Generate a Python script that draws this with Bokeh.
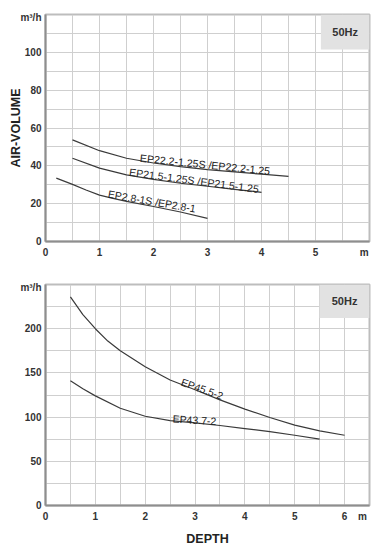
from bokeh.plotting import figure
from bokeh.layouts import column
from bokeh.models import Range1d, FixedTicker, Label, BoxAnnotation
from bokeh.embed import file_html
from bokeh.resources import INLINE

# ---- data: top chart (depth m vs air volume m3/h) ----
ep22_x = [0.5, 1.0, 1.5, 2.0, 2.5, 3.0, 3.5, 4.0, 4.5]
ep22_y = [53.7, 48.0, 44.0, 41.5, 39.6, 38.0, 36.8, 35.6, 34.4]
ep21_x = [0.5, 1.0, 1.5, 2.0, 2.5, 3.0, 3.5, 4.0]
ep21_y = [44.0, 38.8, 35.2, 32.8, 30.8, 29.2, 27.6, 26.0]
ep28_x = [0.2, 0.5, 0.75, 1.0, 1.25, 1.5, 2.0, 2.5, 3.0]
ep28_y = [33.5, 30.2, 27.2, 24.5, 22.8, 21.2, 18.5, 15.6, 12.2]
top_labels = ["EP22.2-1.25S /EP22.2-1.25", "EP21.5-1.25S /EP21.5-1.25", "EP2.8-1S /EP2.8-1"]

# ---- data: bottom chart ----
ep45_x = [0.5, 0.75, 1.0, 1.25, 1.5, 2.0, 2.5, 3.0, 3.5, 4.0, 4.5, 5.0, 5.5, 6.0]
ep45_y = [236, 216, 200, 186, 175, 157, 142, 131, 119.5, 109, 99.5, 91, 84.5, 79.5]
ep43_x = [0.5, 0.75, 1.0, 1.5, 2.0, 2.5, 3.0, 3.5, 4.0, 4.5, 5.0, 5.5]
ep43_y = [141, 132, 124, 110, 101, 96, 93.5, 90.5, 87, 83.5, 79.5, 75]
bot_labels = ["EP45.5-2", "EP43.7-2"]

top_xticks = [0, 1, 2, 3, 4, 5]
top_yticks = [0, 20, 40, 60, 80, 100]
bot_xticks = [0, 1, 2, 3, 4, 5, 6]
bot_yticks = [0, 50, 100, 150, 200]

FONT = "Liberation Sans"
LINE = "#3a3a3a"
GRID = "#cfcfcf"
AXIS = "#8e8e8e"


def style(p, xt, xm, yt, ym, xgrid, ygrid):
    p.xaxis.ticker = FixedTicker(ticks=xt + [xm])
    p.yaxis.ticker = FixedTicker(ticks=yt + [ym])
    p.xaxis.major_label_overrides = {xm: "m"}
    p.yaxis.major_label_overrides = {ym: "m³/h"}
    p.xgrid.ticker = FixedTicker(ticks=xgrid)
    p.ygrid.ticker = FixedTicker(ticks=ygrid)
    for g in (p.xgrid[0], p.ygrid[0]):
        g.grid_line_color = GRID
        g.grid_line_width = 1
    for ax in (p.xaxis[0], p.yaxis[0]):
        ax.axis_line_color = AXIS
        ax.axis_line_width = 2
        ax.major_tick_out = 0
        ax.major_tick_in = 0
        ax.minor_tick_out = 0
        ax.minor_tick_in = 0
        ax.major_label_text_font = FONT
        ax.major_label_text_font_style = "bold"
        ax.major_label_text_font_size = "10px"
        ax.major_label_text_color = "#333333"
        ax.axis_label_text_font = FONT
        ax.axis_label_text_font_style = "bold"
        ax.axis_label_text_font_size = "12.5px"
        ax.axis_label_text_color = "#222222"
    p.xaxis.major_label_standoff = 5
    p.yaxis.major_label_standoff = 4
    p.outline_line_color = "#bdbdbd"
    p.outline_line_width = 2
    p.background_fill_color = "white"
    p.border_fill_color = "white"


def curve_label(p, x, y, txt, ang, size):
    p.add_layout(Label(x=x, y=y, text=txt, angle=ang, angle_units="deg",
                       text_font=FONT, text_font_size=size, text_color="#222222",
                       text_align="left", text_baseline="alphabetic"))


def hz_box(p, l, r, b, t):
    p.add_layout(BoxAnnotation(left=l, right=r, bottom=b, top=t,
                               fill_color="#e2e2e2", fill_alpha=1, line_alpha=0))
    p.add_layout(Label(x=(l + r) / 2, y=(b + t) / 2, text="50Hz",
                       text_font=FONT, text_font_style="bold", text_font_size="11px",
                       text_color="#333333", text_align="center", text_baseline="middle"))


# ---- top figure ----
p1 = figure(width=383, height=270, output_backend="svg", toolbar_location=None,
            x_range=Range1d(0, 6), y_range=Range1d(0, 120),
            min_border_left=45, min_border_right=14, min_border_top=14, min_border_bottom=29)
style(p1, top_xticks, 5.9, top_yticks, 118.5,
      [0.5 * i for i in range(1, 12)], [10 * i for i in range(1, 12)])
p1.yaxis.axis_label = "AIR-VOLUME"
p1.yaxis.axis_label_standoff = -6
p1.line(ep22_x, ep22_y, line_color=LINE, line_width=1.2)
p1.line(ep21_x, ep21_y, line_color=LINE, line_width=1.2)
p1.line(ep28_x, ep28_y, line_color=LINE, line_width=1.2)
curve_label(p1, 1.75, 44.3, top_labels[0], -5.8, "10.6px")
curve_label(p1, 1.55, 36.8, top_labels[1], -7.5, "10.6px")
curve_label(p1, 1.16, 25.3, top_labels[2], -9.7, "10.5px")
hz_box(p1, 5.1, 6.0, 101.5, 120)

# ---- bottom figure ----
p2 = figure(width=383, height=278, output_backend="svg", toolbar_location=None,
            x_range=Range1d(0, 6.5), y_range=Range1d(0, 250),
            min_border_left=45, min_border_right=13, min_border_top=14, min_border_bottom=37)
style(p2, bot_xticks, 6.36, bot_yticks, 246.5,
      [0.5 * i for i in range(1, 13)], [25 * i for i in range(1, 10)])
p2.xaxis.axis_label = "DEPTH"
p2.xaxis.axis_label_standoff = 7
p2.line(ep45_x, ep45_y, line_color=LINE, line_width=1.2)
p2.line(ep43_x, ep43_y, line_color=LINE, line_width=1.2)
curve_label(p2, 2.73, 140.3, bot_labels[0], -19.5, "10.5px")
curve_label(p2, 2.55, 98.3, bot_labels[1], -3.2, "10.5px")
hz_box(p2, 5.5, 6.5, 212, 250)

layout = column(p1, p2, spacing=0)
open("out.html", "w").write(file_html(layout, INLINE))
